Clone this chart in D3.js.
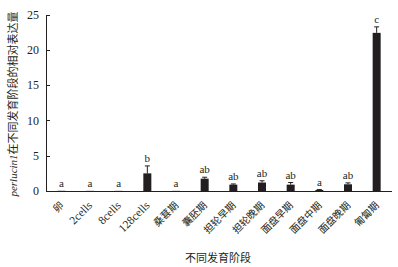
<!DOCTYPE html>
<meta charset="utf-8">
<html lang="zh">
<style>
    body {
        margin: 0;
        background: #fff;
        font-family: "Liberation Serif", "Noto Sans CJK SC", serif;
    }
    .axis path,
    .axis line {
        fill: none;
        stroke: #231f20;
        shape-rendering: crispEdges;
    }
</style>
<head>
    <meta charset="UTF-8">
    <script src="https://d3js.org/d3.v7.min.js"></script>
</head>
<body>
<svg width="398" height="267"></svg>
<script>

    // stages, mean expression, upper error, significance letters
    var stages = ["卵", "2cells", "8cells", "128cells", "桑葚期", "囊胚期", "担轮早期",
        "担轮晚期", "面盘早期", "面盘中期", "面盘晚期", "匍匐期"];
    var means = [0.03, 0.02, 0.02, 2.5, 0.02, 1.75, 0.9, 1.2, 0.9, 0.15, 0.95, 22.4];
    var errors = [0, 0, 0, 1.05, 0, 0.2, 0.1, 0.25, 0.3, 0.05, 0.2, 0.85];
    var letters = ["a", "a", "a", "b", "a", "ab", "ab", "ab", "ab", "a", "ab", "c"];
    var yTicks = [0, 5, 10, 15, 20, 25];

    var data = stages.map(function (s, i) {
        return {stage: s, mean: means[i], err: errors[i], letter: letters[i]};
    });

    var plotLeft = 46, plotRight = 392, plotTop = 14.5, plotBottom = 191;

    var x = d3.scaleBand().domain(stages).range([47, 391]);
    var y = d3.scaleLinear().domain([0, 25]).range([plotBottom, plotTop]);

    var svg = d3.select("svg");

    // y axis, ticks pointing inside
    svg.append("g")
        .attr("class", "axis")
        .attr("transform", "translate(" + plotLeft + ",0)")
        .call(d3.axisRight(y).tickValues(yTicks).tickSize(4).tickSizeOuter(0))
        .call(function (g) {
            g.selectAll("text").remove();
        });

    svg.append("g")
        .selectAll("text")
        .data(yTicks)
        .enter().append("text")
        .attr("x", plotLeft - 7)
        .attr("y", function (d) { return y(d); })
        .attr("dy", "0.35em")
        .attr("text-anchor", "end")
        .style("font-size", "12px")
        .style("fill", "#231f20")
        .text(function (d) { return d; });

    // x axis line
    svg.append("line")
        .attr("x1", plotLeft).attr("x2", plotRight)
        .attr("y1", plotBottom).attr("y2", plotBottom)
        .style("stroke", "#231f20")
        .style("shape-rendering", "crispEdges");

    var barW = 8;
    var cx = function (d) { return x(d.stage) + x.bandwidth() / 2; };

    svg.append("g")
        .selectAll("rect")
        .data(data)
        .enter().append("rect")
        .attr("x", function (d) { return cx(d) - barW / 2; })
        .attr("y", function (d) { return y(d.mean); })
        .attr("width", barW)
        .attr("height", function (d) { return plotBottom - y(d.mean); })
        .style("fill", "#231f20");

    // upper error bars
    var eb = svg.append("g")
        .selectAll("g")
        .data(data.filter(function (d) { return d.err > 0; }))
        .enter().append("g")
        .style("stroke", "#231f20")
        .style("stroke-width", 1);
    eb.append("line")
        .attr("x1", cx).attr("x2", cx)
        .attr("y1", function (d) { return y(d.mean); })
        .attr("y2", function (d) { return y(d.mean + d.err); });
    eb.append("line")
        .attr("x1", function (d) { return cx(d) - 2.5; })
        .attr("x2", function (d) { return cx(d) + 2.5; })
        .attr("y1", function (d) { return y(d.mean + d.err); })
        .attr("y2", function (d) { return y(d.mean + d.err); });

    svg.append("g")
        .selectAll("text")
        .data(data)
        .enter().append("text")
        .attr("x", cx)
        .attr("y", function (d) { return y(d.mean + d.err) - 4; })
        .attr("text-anchor", "middle")
        .style("font-size", "11px")
        .style("fill", "#231f20")
        .text(function (d) { return d.letter; });

    // rotated category labels (latin ones a bit larger, like the original)
    svg.append("g")
        .selectAll("text")
        .data(data)
        .enter().append("text")
        .attr("transform", function (d) {
            return "translate(" + (cx(d) + 3) + "," + 206 + ") rotate(-45)";
        })
        .attr("text-anchor", "end")
        .style("font-size", function (d) {
            return /^[\x00-\x7f]+$/.test(d.stage) ? "11.5px" : "10px";
        })
        .style("fill", "#231f20")
        .text(function (d) { return d.stage; });

    svg.append("text")
        .attr("x", 218)
        .attr("y", 262)
        .attr("text-anchor", "middle")
        .style("font-size", "11px")
        .style("fill", "#231f20")
        .text("不同发育阶段");

    var yl = svg.append("text")
        .attr("transform", "translate(17,104) rotate(-90)")
        .attr("text-anchor", "middle")
        .style("font-size", "11px")
        .style("fill", "#231f20");
    yl.append("tspan").style("font-style", "italic").text("perlucin1");
    yl.append("tspan").text("在不同发育阶段的相对表达量");

</script>
</body>
</html>
